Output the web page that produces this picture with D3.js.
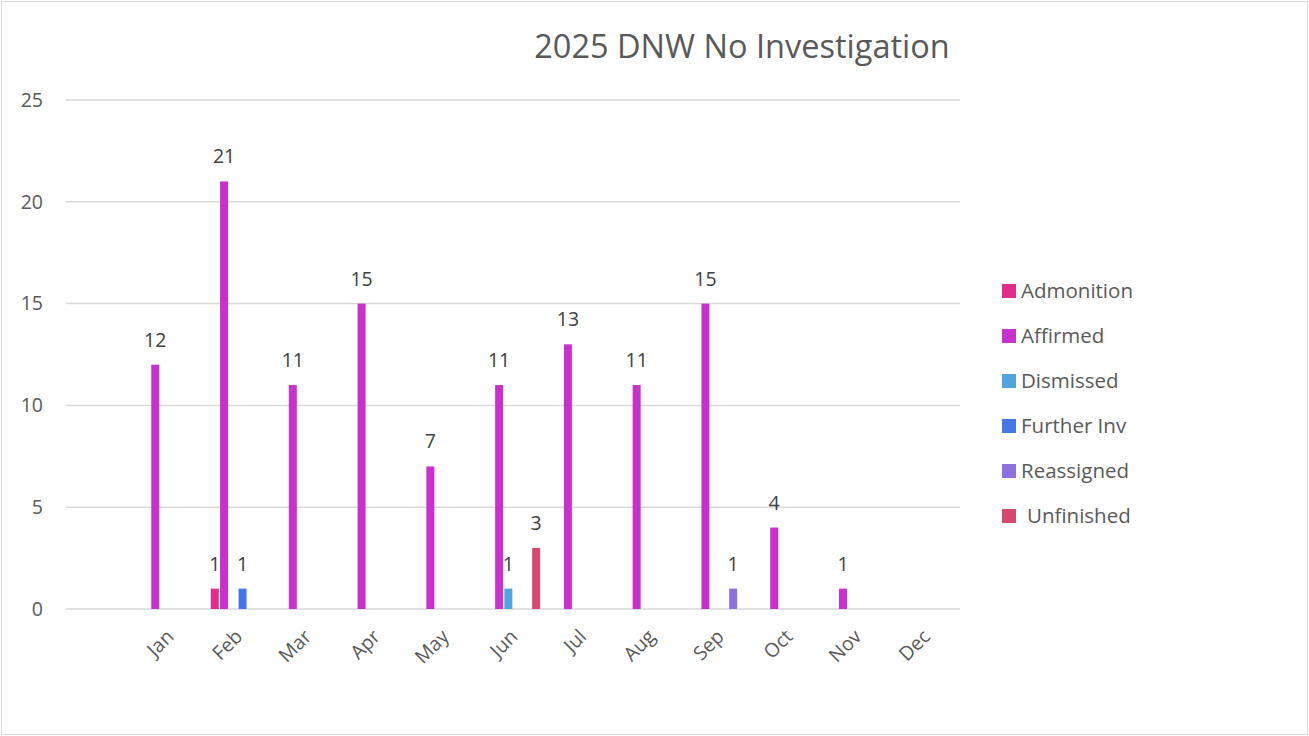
<!DOCTYPE html>
<html>
<head>
<meta charset="utf-8">
<script src="https://cdn.jsdelivr.net/npm/d3@7"></script>
<style>
  body { margin: 0; background: #fff; }
  text { font-family: "Open Sans", "Noto Sans", sans-serif; }
</style>
</head>
<body>
<script>
// chart data
var months = ["Jan", "Feb", "Mar", "Apr", "May", "Jun", "Jul", "Aug", "Sep", "Oct", "Nov", "Dec"];
var seriesNames = ["Admonition", "Affirmed", "Dismissed", "Further Inv", "Reassigned", "Unfinished"];
var admonition = [0, 1, 0, 0, 0, 0, 0, 0, 0, 0, 0, 0];
var affirmed   = [12, 21, 11, 15, 7, 11, 13, 11, 15, 4, 1, 0];
var dismissed  = [0, 0, 0, 0, 0, 1, 0, 0, 0, 0, 0, 0];
var furtherInv = [0, 1, 0, 0, 0, 0, 0, 0, 0, 0, 0, 0];
var reassigned = [0, 0, 0, 0, 0, 0, 0, 0, 1, 0, 0, 0];
var unfinished = [0, 0, 0, 0, 0, 3, 0, 0, 0, 0, 0, 0];
var yTicks = [0, 5, 10, 15, 20, 25];
var colors = ["#E22D8C", "#C832CC", "#4FA5DC", "#4776E6", "#8B70DE", "#D6486F"];

var seriesValues = [admonition, affirmed, dismissed, furtherInv, reassigned, unfinished];

var width = 1309, height = 736;
var plot = { left: 66, right: 960, top: 100, bottom: 609 };

var svg = d3.select("body").append("svg")
    .attr("width", width)
    .attr("height", height);

// outer chart border
svg.append("rect")
    .attr("x", 1.5).attr("y", 1.5)
    .attr("width", width - 3).attr("height", height - 3)
    .attr("fill", "#fff")
    .attr("stroke", "#d9d9d9");

// scales
var yScale = d3.scaleLinear().domain([0, 25]).range([plot.bottom, plot.top]);

// the category axis leaves one empty slot at the left, as in the source chart
var step = (plot.right - plot.left) / 13;
var x0 = d3.scaleBand().domain(months).range([plot.left + step, plot.right]);
var barStep = 9.25;
var x1 = d3.scaleBand().domain(seriesNames)
    .range([(step - barStep * 6) / 2, (step + barStep * 6) / 2]);
var barWidth = 8;

// gridlines
svg.append("g")
    .selectAll("line")
    .data(yTicks)
    .enter().append("line")
    .attr("x1", plot.left).attr("x2", plot.right)
    .attr("y1", function(d) { return yScale(d); })
    .attr("y2", function(d) { return yScale(d); })
    .attr("stroke", "#d9d9d9")
    .attr("stroke-width", 1.5);

// y labels
svg.append("g")
    .selectAll("text")
    .data(yTicks)
    .enter().append("text")
    .attr("x", 43)
    .attr("y", function(d) { return yScale(d); })
    .attr("dy", "0.35em")
    .attr("text-anchor", "end")
    .attr("fill", "#595959")
    .style("font-size", "19.5px")
    .text(function(d) { return d; });

// x labels
svg.append("g")
    .selectAll("text")
    .data(months)
    .enter().append("text")
    .attr("transform", function(d) {
        return "translate(" + (x0(d) + x0.bandwidth() / 2 + 1) + ",633) rotate(-45)";
    })
    .attr("dy", "0.35em")
    .attr("text-anchor", "end")
    .attr("fill", "#595959")
    .style("font-size", "19.5px")
    .text(function(d) { return d; });

// bars
var barData = [];
seriesValues.forEach(function(vals, s) {
    vals.forEach(function(v, m) {
        if (v > 0) barData.push({ month: months[m], series: seriesNames[s], value: v, color: colors[s] });
    });
});

var bars = svg.append("g");
bars.selectAll("rect")
    .data(barData)
    .enter().append("rect")
    .attr("x", function(d) { return x0(d.month) + x1(d.series) + (x1.bandwidth() - barWidth) / 2; })
    .attr("y", function(d) { return yScale(d.value); })
    .attr("width", barWidth)
    .attr("height", function(d) { return yScale(0) - yScale(d.value); })
    .attr("fill", function(d) { return d.color; });

// data labels
bars.selectAll("text")
    .data(barData)
    .enter().append("text")
    .attr("x", function(d) { return x0(d.month) + x1(d.series) + x1.bandwidth() / 2; })
    .attr("y", function(d) { return yScale(d.value) - 18; })
    .attr("text-anchor", "middle")
    .attr("fill", "#404040")
    .style("font-size", "19.5px")
    .text(function(d) { return d.value; });

// title
svg.append("text")
    .attr("x", 742)
    .attr("y", 58)
    .attr("text-anchor", "middle")
    .attr("fill", "#595959")
    .style("font-size", "32.5px")
    .text("2025 DNW No Investigation");

// legend
var legend = svg.append("g")
    .selectAll("g")
    .data(seriesNames)
    .enter().append("g")
    .attr("transform", function(d, i) { return "translate(1002," + (291 + i * 45) + ")"; });

legend.append("rect")
    .attr("x", 0).attr("y", -7)
    .attr("width", 14).attr("height", 14)
    .attr("fill", function(d, i) { return colors[i]; });

legend.append("text")
    .attr("x", function(d) { return d === "Unfinished" ? 25 : 19; })
    .attr("dy", "0.35em")
    .attr("fill", "#595959")
    .style("font-size", "20.5px")
    .text(function(d) { return d; });
</script>
</body>
</html>
